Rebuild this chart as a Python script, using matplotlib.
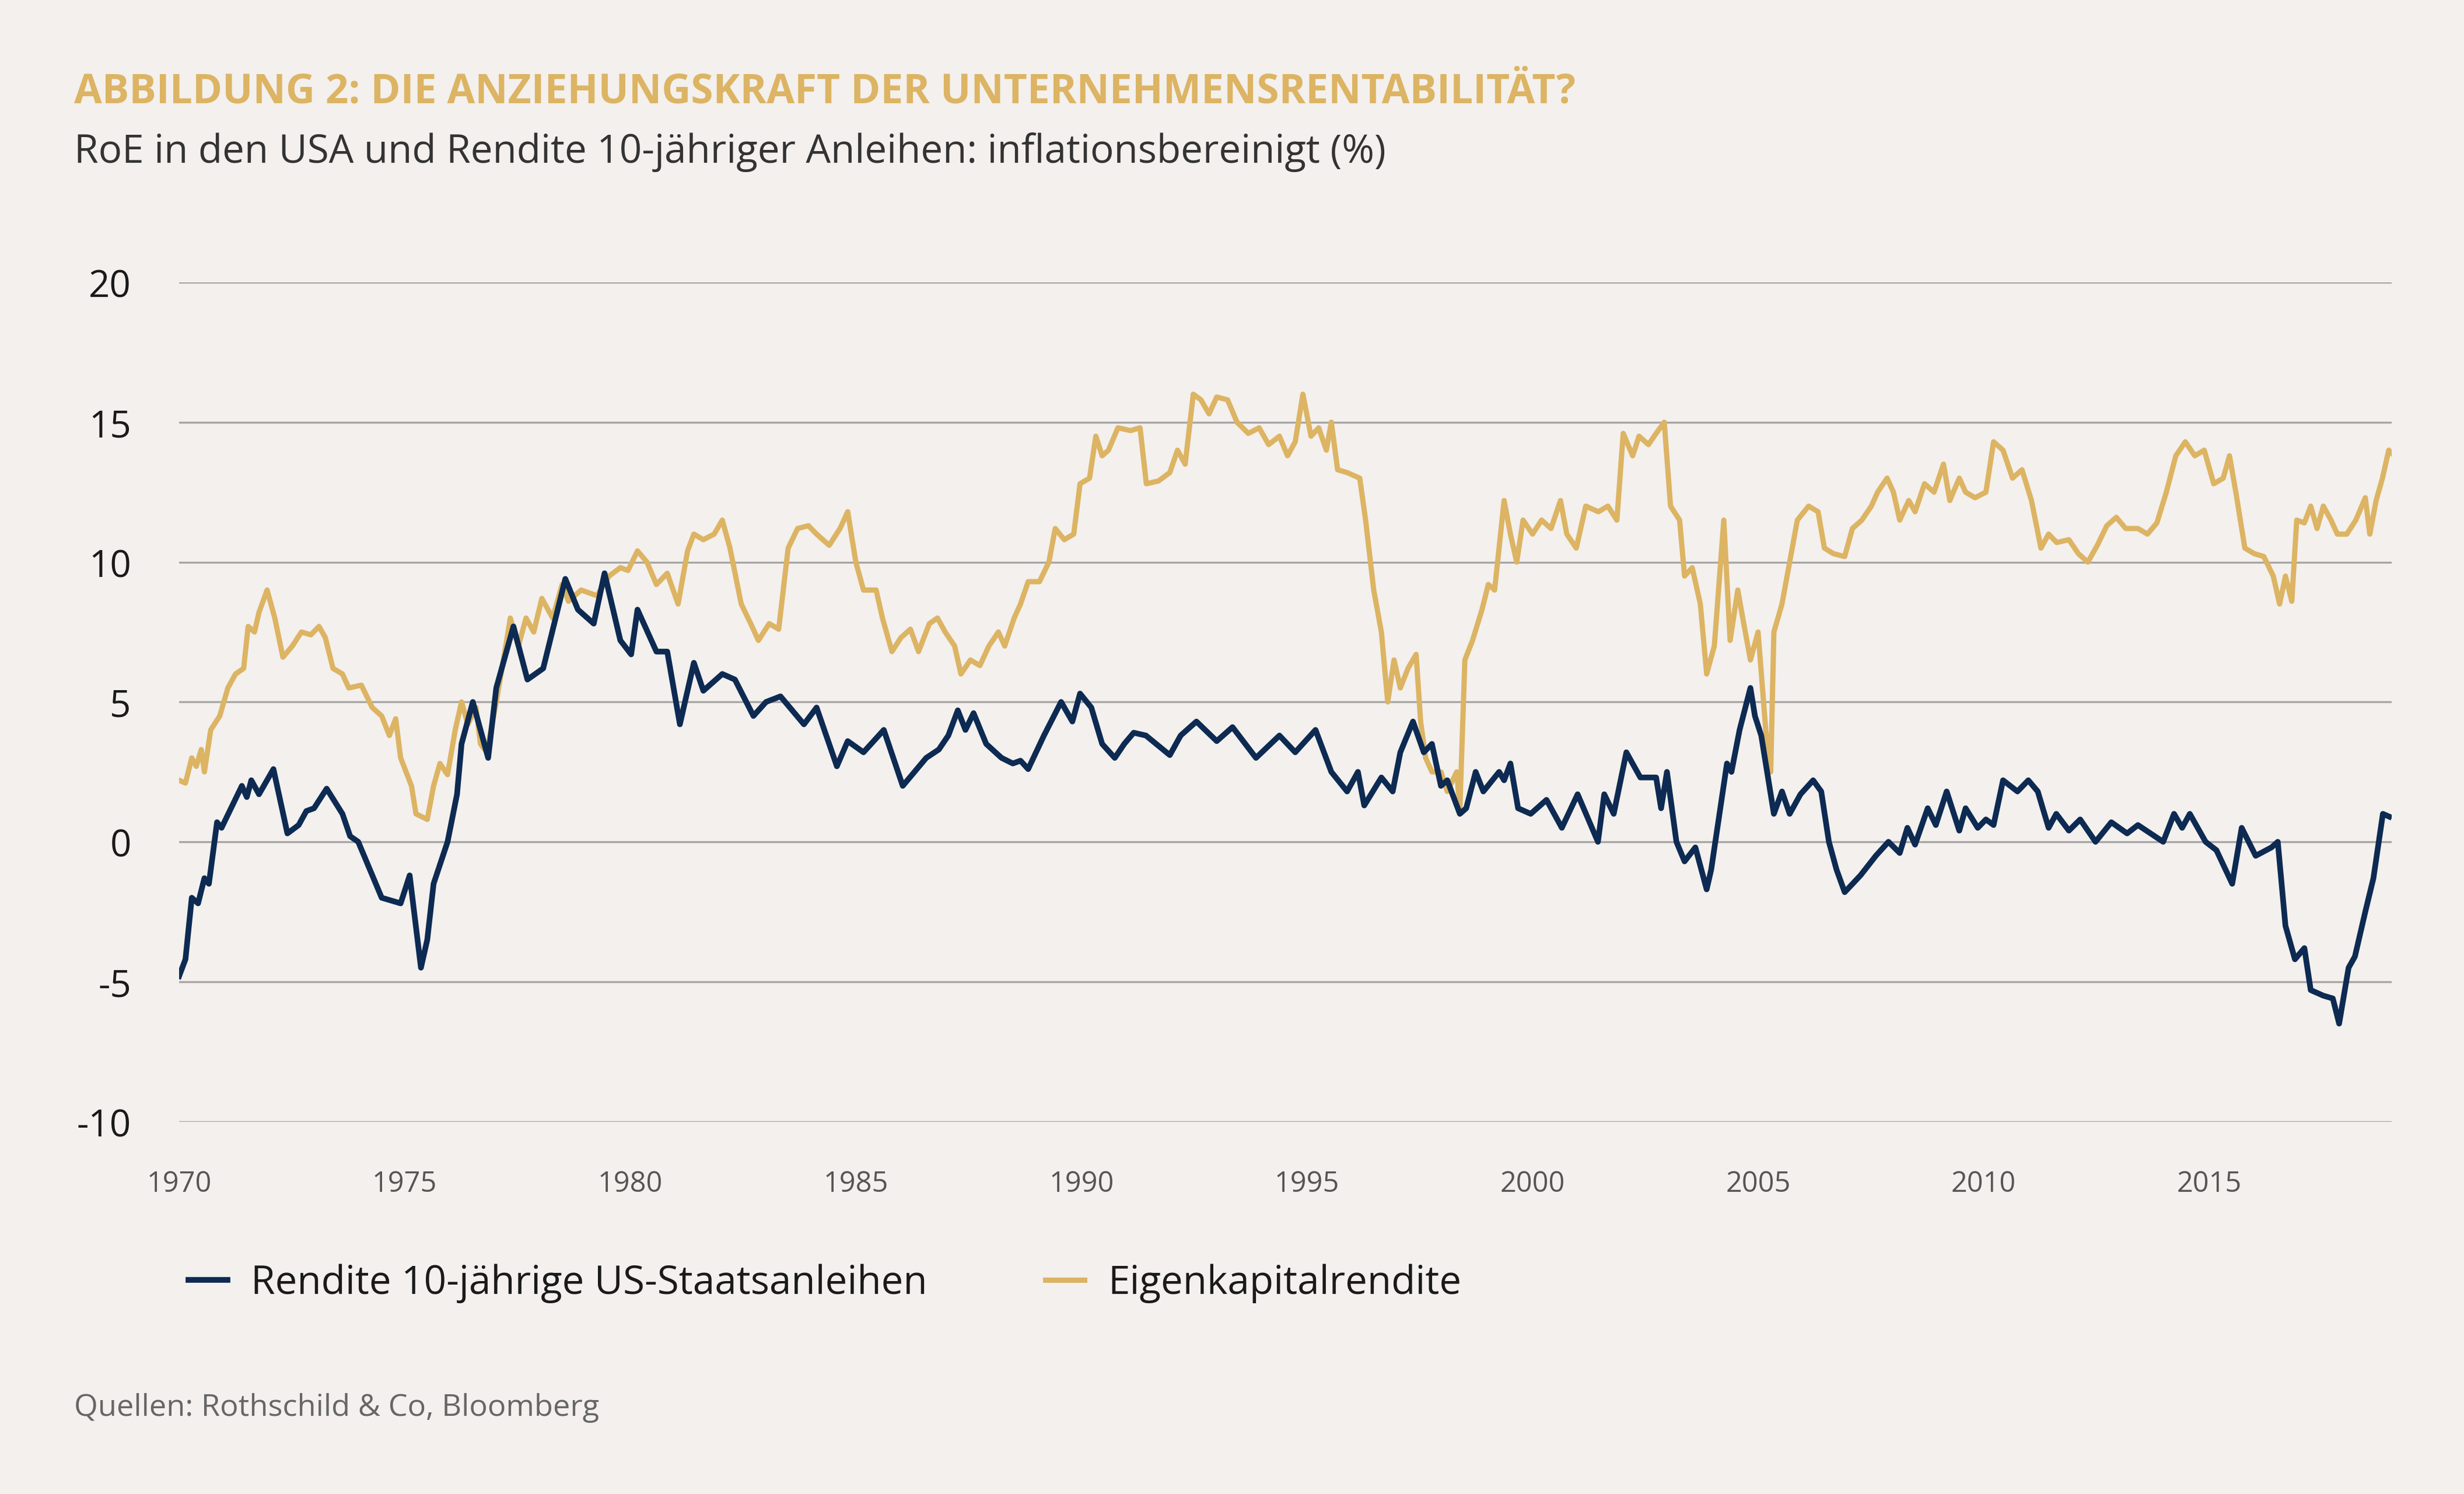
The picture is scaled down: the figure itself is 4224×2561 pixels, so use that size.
import matplotlib
matplotlib.use("Agg")
import matplotlib.pyplot as plt

# Rendite 10-jährige US-Staatsanleihen (real), decimal years
bond_x = [1970.00, 1970.14, 1970.28, 1970.42, 1970.56, 1970.66, 1970.84, 1970.94, 1971.15, 1971.39,
          1971.50, 1971.60, 1971.77, 1972.09, 1972.40, 1972.65, 1972.82, 1972.99, 1973.27, 1973.62,
          1973.79, 1973.97, 1974.49, 1974.91, 1975.11, 1975.36,
          1975.50, 1975.64, 1975.95, 1976.16, 1976.26, 1976.51, 1976.85, 1977.03, 1977.41, 1977.72,
          1978.07, 1978.56, 1978.84, 1979.19, 1979.43, 1979.78, 1980.02, 1980.16, 1980.58, 1980.82,
          1981.10, 1981.41, 1981.62, 1982.04, 1982.32, 1982.73, 1983.01, 1983.33, 1983.85, 1984.13,
          1984.58, 1984.82, 1985.17, 1985.62, 1986.04, 1986.56, 1986.84, 1987.05, 1987.26, 1987.43,
          1987.61, 1987.89, 1988.23, 1988.48, 1988.65, 1988.82, 1989.17, 1989.55, 1989.80,
          1989.97, 1990.22, 1990.46, 1990.74, 1990.95, 1991.16, 1991.43, 1991.96, 1992.20, 1992.55,
          1993.00, 1993.35, 1993.87, 1994.39, 1994.74,
          1995.19, 1995.54, 1995.89, 1996.13, 1996.27, 1996.65, 1996.90, 1997.07, 1997.35, 1997.59,
          1997.77, 1997.97, 1998.11, 1998.39, 1998.53, 1998.74, 1998.91, 1999.26, 1999.37, 1999.51,
          1999.68, 1999.96, 2000.31, 2000.65, 2001.00, 2001.45, 2001.59, 2001.80, 2002.08, 2002.39,
          2002.74, 2002.85, 2002.98, 2003.19, 2003.37, 2003.61, 2003.86, 2003.96, 2004.31, 2004.41,
          2004.59, 2004.83, 2004.93, 2005.07, 2005.35, 2005.53, 2005.70, 2005.94, 2006.22, 2006.40,
          2006.57, 2006.74, 2006.92, 2007.27, 2007.61, 2007.89, 2008.14, 2008.31, 2008.48, 2008.76,
          2008.94, 2009.18, 2009.46, 2009.60, 2009.87, 2010.05, 2010.22, 2010.43, 2010.75, 2010.99,
          2011.20, 2011.44, 2011.61, 2011.89, 2012.14, 2012.48, 2012.73, 2012.83, 2013.18, 2013.42,
          2013.98, 2014.22, 2014.40, 2014.57, 2014.92, 2015.16, 2015.51, 2015.72, 2016.03, 2016.38,
          2016.52, 2016.69, 2016.90, 2017.11, 2017.25, 2017.53, 2017.74, 2017.88, 2018.09, 2018.23,
          2018.46, 2018.64, 2018.85, 2018.99]
bond_y = [-4.8, -4.2, -2.0, -2.2, -1.3, -1.5, 0.7, 0.5, 1.2, 2.0,
          1.6, 2.2, 1.7, 2.6, 0.3, 0.6, 1.1, 1.2, 1.9, 1.0,
          0.2, 0.0, -2.0, -2.2, -1.2, -4.5,
          -3.5, -1.5, 0.0, 1.7, 3.5, 5.0, 3.0, 5.5, 7.7, 5.8,
          6.2, 9.4, 8.3, 7.8, 9.6, 7.2, 6.7, 8.3, 6.8, 6.8,
          4.2, 6.4, 5.4, 6.0, 5.8, 4.5, 5.0, 5.2, 4.2, 4.8,
          2.7, 3.6, 3.2, 4.0, 2.0, 3.0, 3.3, 3.8, 4.7, 4.0,
          4.6, 3.5, 3.0, 2.8, 2.9, 2.6, 3.8, 5.0, 4.3,
          5.3, 4.8, 3.5, 3.0, 3.5, 3.9, 3.8, 3.1, 3.8, 4.3,
          3.6, 4.1, 3.0, 3.8, 3.2,
          4.0, 2.5, 1.8, 2.5, 1.3, 2.3, 1.8, 3.2, 4.3, 3.2,
          3.5, 2.0, 2.2, 1.0, 1.2, 2.5, 1.8, 2.5, 2.2, 2.8,
          1.2, 1.0, 1.5, 0.5, 1.7, 0.0, 1.7, 1.0, 3.2, 2.3,
          2.3, 1.2, 2.5, 0.0, -0.7, -0.2, -1.7, -1.0, 2.8, 2.5,
          4.0, 5.5, 4.5, 3.8, 1.0, 1.8, 1.0, 1.7, 2.2, 1.8,
          0.0, -1.0, -1.8, -1.2, -0.5, 0.0, -0.4, 0.5, -0.1, 1.2,
          0.6, 1.8, 0.4, 1.2, 0.5, 0.8, 0.6, 2.2, 1.8, 2.2,
          1.8, 0.5, 1.0, 0.4, 0.8, 0.0, 0.5, 0.7, 0.3, 0.6,
          0.0, 1.0, 0.5, 1.0, 0.0, -0.3, -1.5, 0.5, -0.5, -0.2,
          0.0, -3.0, -4.2, -3.8, -5.3, -5.5, -5.6, -6.5, -4.5, -4.1,
          -2.5, -1.3, 1.0, 0.9]

# Eigenkapitalrendite (real)
roe_x = [1970.00, 1970.14, 1970.28, 1970.38, 1970.49, 1970.56, 1970.70, 1970.90, 1971.08, 1971.25,
         1971.43, 1971.53, 1971.67, 1971.77, 1971.95, 1972.12, 1972.30, 1972.51, 1972.71, 1972.92,
         1973.10, 1973.24, 1973.41, 1973.62, 1973.76, 1974.04, 1974.28, 1974.49, 1974.66, 1974.80,
         1974.91, 1975.15, 1975.25, 1975.50, 1975.64, 1975.78, 1975.95, 1976.12, 1976.26, 1976.40,
         1976.58, 1976.68, 1976.82, 1977.03, 1977.24, 1977.34, 1977.52, 1977.69, 1977.86, 1978.04,
         1978.28, 1978.49, 1978.63, 1978.91, 1979.26, 1979.53, 1979.78, 1979.95, 1980.16, 1980.37,
         1980.58, 1980.82, 1981.06, 1981.27, 1981.41, 1981.62, 1981.86, 1982.04, 1982.21, 1982.46,
         1982.67, 1982.84, 1983.08, 1983.29, 1983.50, 1983.71, 1983.95, 1984.13, 1984.41, 1984.65,
         1984.82, 1985.00, 1985.17, 1985.45, 1985.59, 1985.80, 1986.00, 1986.21, 1986.39, 1986.63,
         1986.81, 1986.98, 1987.19, 1987.33, 1987.54, 1987.75, 1987.95, 1988.16, 1988.30, 1988.51,
         1988.65, 1988.82, 1989.07, 1989.28, 1989.42, 1989.62, 1989.83, 1989.97, 1990.18, 1990.32,
         1990.46, 1990.60, 1990.81, 1991.09, 1991.30, 1991.44, 1991.71, 1991.96, 1992.13, 1992.30,
         1992.48, 1992.65, 1992.83, 1993.00, 1993.24, 1993.45, 1993.70, 1993.94, 1994.15, 1994.39,
         1994.57, 1994.74, 1994.91, 1995.09, 1995.26, 1995.43, 1995.54, 1995.68, 1995.89, 1996.17,
         1996.30, 1996.48, 1996.65, 1996.79, 1996.93, 1997.07, 1997.24, 1997.42, 1997.52, 1997.63,
         1997.77, 1997.97, 1998.11, 1998.32, 1998.39, 1998.50, 1998.67, 1998.88, 1999.02, 1999.16,
         1999.37, 1999.51, 1999.65, 1999.79, 2000.00, 2000.20, 2000.41, 2000.62, 2000.76, 2000.97,
         2001.18, 2001.46, 2001.67, 2001.87, 2002.01, 2002.22, 2002.36, 2002.57, 2002.74, 2002.92,
         2003.06, 2003.26, 2003.37, 2003.54, 2003.72, 2003.86, 2004.03, 2004.24, 2004.38, 2004.55,
         2004.66, 2004.83, 2005.00, 2005.17, 2005.28, 2005.35, 2005.53, 2005.70, 2005.87, 2006.12,
         2006.33, 2006.47, 2006.67, 2006.92, 2007.09, 2007.30, 2007.51, 2007.65, 2007.86, 2008.00,
         2008.14, 2008.34, 2008.48, 2008.69, 2008.90, 2009.11, 2009.25, 2009.46, 2009.60, 2009.81,
         2010.05, 2010.22, 2010.43, 2010.64, 2010.85, 2011.06, 2011.27, 2011.44, 2011.62, 2011.89,
         2012.10, 2012.31, 2012.52, 2012.73, 2012.94, 2013.15, 2013.42, 2013.63, 2013.84, 2014.05,
         2014.26, 2014.47, 2014.68, 2014.89, 2015.10, 2015.31, 2015.45, 2015.59, 2015.79, 2016.00,
         2016.21, 2016.42, 2016.56, 2016.69, 2016.83, 2016.94, 2017.11, 2017.25, 2017.39, 2017.53,
         2017.70, 2017.84, 2018.05, 2018.25, 2018.46, 2018.56, 2018.70, 2018.84, 2018.98, 2019.04]
roe_y = [2.2, 2.1, 3.0, 2.7, 3.3, 2.5, 4.0, 4.5, 5.5, 6.0,
         6.2, 7.7, 7.5, 8.2, 9.0, 8.0, 6.6, 7.0, 7.5, 7.4,
         7.7, 7.3, 6.2, 6.0, 5.5, 5.6, 4.8, 4.5, 3.8, 4.4,
         3.0, 2.0, 1.0, 0.8, 2.0, 2.8, 2.4, 4.0, 5.0, 4.2,
         4.8, 3.5, 3.2, 5.0, 7.0, 8.0, 7.0, 8.0, 7.5, 8.7,
         8.0, 9.2, 8.6, 9.0, 8.8, 9.5, 9.8, 9.7, 10.4, 10.0,
         9.2, 9.6, 8.5, 10.4, 11.0, 10.8, 11.0, 11.5, 10.5, 8.5,
         7.8, 7.2, 7.8, 7.6, 10.5, 11.2, 11.3, 11.0, 10.6, 11.2,
         11.8, 10.0, 9.0, 9.0, 8.0, 6.8, 7.3, 7.6, 6.8, 7.8,
         8.0, 7.5, 7.0, 6.0, 6.5, 6.3, 7.0, 7.5, 7.0, 8.0,
         8.5, 9.3, 9.3, 10.0, 11.2, 10.8, 11.0, 12.8, 13.0, 14.5,
         13.8, 14.0, 14.8, 14.7, 14.8, 12.8, 12.9, 13.2, 14.0, 13.5,
         16.0, 15.8, 15.3, 15.9, 15.8, 15.0, 14.6, 14.8, 14.2, 14.5,
         13.8, 14.3, 16.0, 14.5, 14.8, 14.0, 15.0, 13.3, 13.2, 13.0,
         11.5, 9.0, 7.5, 5.0, 6.5, 5.5, 6.2, 6.7, 4.3, 3.0,
         2.5, 2.5, 1.8, 2.5, 1.2, 6.5, 7.2, 8.3, 9.2, 9.0,
         12.2, 11.0, 10.0, 11.5, 11.0, 11.5, 11.2, 12.2, 11.0, 10.5,
         12.0, 11.8, 12.0, 11.5, 14.6, 13.8, 14.5, 14.2, 14.6, 15.0,
         12.0, 11.5, 9.5, 9.8, 8.5, 6.0, 7.0, 11.5, 7.2, 9.0,
         8.0, 6.5, 7.5, 4.0, 2.5, 7.5, 8.5, 10.0, 11.5, 12.0,
         11.8, 10.5, 10.3, 10.2, 11.2, 11.5, 12.0, 12.5, 13.0, 12.5,
         11.5, 12.2, 11.8, 12.8, 12.5, 13.5, 12.2, 13.0, 12.5, 12.3,
         12.5, 14.3, 14.0, 13.0, 13.3, 12.2, 10.5, 11.0, 10.7, 10.8,
         10.3, 10.0, 10.6, 11.3, 11.6, 11.2, 11.2, 11.0, 11.4, 12.5,
         13.8, 14.3, 13.8, 14.0, 12.8, 13.0, 13.8, 12.5, 10.5, 10.3,
         10.2, 9.5, 8.5, 9.5, 8.6, 11.5, 11.4, 12.0, 11.2, 12.0,
         11.5, 11.0, 11.0, 11.5, 12.3, 11.0, 12.2, 13.0, 14.0, 13.9]

bg = "#f3f0ed"
navy = "#0d2a52"
gold = "#dcb463"
grid_col = "#a8a6a4"

plt.rcParams['font.family'] = ['Open Sans', 'DejaVu Sans']

fig = plt.figure(figsize=(15.68, 9.51), dpi=269.4, facecolor=bg)
ax = fig.add_axes([0.0727, 0.2492, 0.898, 0.5615], facecolor=bg)

ax.plot(roe_x, roe_y, color=gold, lw=2.4, label="Eigenkapitalrendite", zorder=3)
ax.plot(bond_x, bond_y, color=navy, lw=2.6, label="Rendite 10-jährige US-Staatsanleihen", zorder=4)

ax.set_xlim(1970, 2019.05)
ax.set_ylim(-10, 20)
ax.set_yticks([-10, -5, 0, 5, 10, 15, 20])
ax.set_yticklabels(["-10", "-5", "0", "5", "10", "15", "20"])
ax.set_xticks(list(range(1970, 2020, 5)))
ax.grid(axis='y', color=grid_col, lw=0.9)
ax.set_axisbelow(True)
for s in ax.spines.values():
    s.set_visible(False)
ax.tick_params(axis='y', length=0, pad=22, labelsize=17, labelcolor="#1a1a1a")
ax.tick_params(axis='x', length=0, pad=22, labelsize=13, labelcolor="#555555")

h, l = ax.get_legend_handles_labels()
fig.legend(h[::-1], l[::-1], loc='upper left', bbox_to_anchor=(0.062, 0.178), ncol=2,
           frameon=False, fontsize=18, handlelength=1.0, columnspacing=3.0,
           handletextpad=0.6, labelcolor="#1a1a1a")

fig.text(0.03, 0.938, "ABBILDUNG 2: DIE ANZIEHUNGSKRAFT DER UNTERNEHMENSRENTABILITÄT?",
         color=gold, fontsize=18.5, fontweight='bold', ha='left', va='center')
fig.text(0.03, 0.898, "RoE in den USA und Rendite 10-jähriger Anleihen: inflationsbereinigt (%)",
         color="#333333", fontsize=18, ha='left', va='center')
fig.text(0.03, 0.058, "Quellen: Rothschild & Co, Bloomberg", color="#666666",
         fontsize=14, ha='left', va='center')

fig.savefig("out.png", dpi=269.4, facecolor=bg)
